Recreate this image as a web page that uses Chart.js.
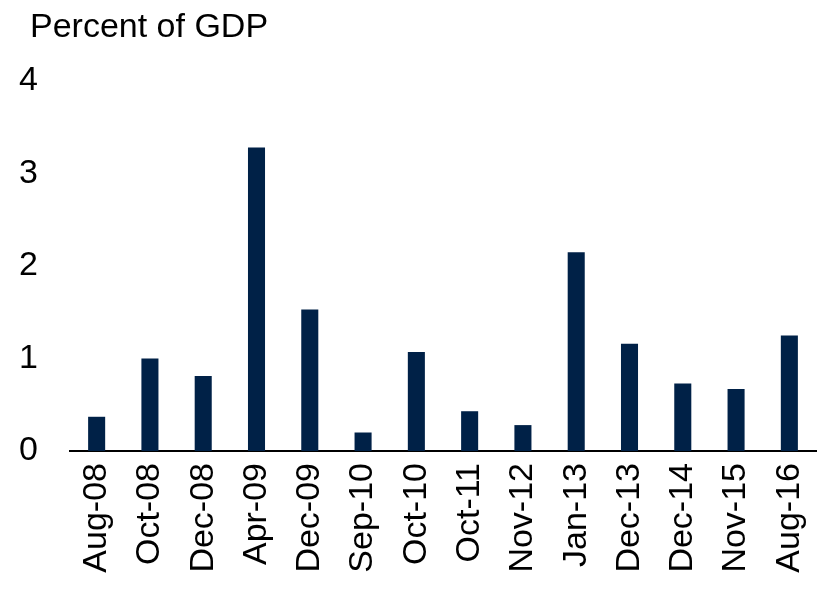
<!DOCTYPE html>
<html>
<head>
<meta charset="utf-8">
<script src="https://cdn.jsdelivr.net/npm/chart.js@4"></script>
<style>
  html, body { margin: 0; padding: 0; background: #fff; }
  #wrap { width: 818px; height: 589px; }
</style>
</head>
<body>
<div id="wrap"><canvas id="gdpChart"></canvas></div>
<script>
const categories = ["Aug-08", "Oct-08", "Dec-08", "Apr-09", "Dec-09", "Sep-10", "Oct-10",
                    "Oct-11", "Nov-12", "Jan-13", "Dec-13", "Dec-14", "Nov-15", "Aug-16"];
const values = [0.37, 1.0, 0.81, 3.28, 1.53, 0.2, 1.07, 0.43, 0.28, 2.15, 1.16, 0.73, 0.67, 1.25];
const yTicks = [0, 1, 2, 3, 4];
const titleText = "Percent of GDP";

const fontFamily = "'Liberation Sans', Arial, sans-serif";
const fontSize = 34;

// unit title sits top-left, left of the plot area, so draw it ourselves
const unitTitle = {
  id: 'unitTitle',
  afterDraw(chart) {
    const c = chart.ctx;
    c.save();
    c.fillStyle = '#000';
    c.font = fontSize + 'px ' + fontFamily;
    c.textAlign = 'left';
    c.textBaseline = 'alphabetic';
    c.fillText(titleText, 30, 37);
    c.restore();
  }
};

const ctx = document.getElementById("gdpChart").getContext("2d");
new Chart(ctx, {
  type: 'bar',
  data: {
    labels: categories,
    datasets: [{
      label: titleText,
      data: values,
      backgroundColor: '#002147',
      borderWidth: 0,
      barPercentage: 0.32,
      categoryPercentage: 1
    }]
  },
  options: {
    responsive: true,
    maintainAspectRatio: false,
    animation: false,
    layout: { padding: { left: 0, right: 2, top: 81, bottom: 0 } },
    plugins: {
      legend: { display: false },
      tooltip: { enabled: false },
      title: { display: false }
    },
    scales: {
      x: {
        grid: { display: false, drawTicks: false },
        border: { display: true, color: '#000', width: 2 },
        ticks: {
          color: '#000',
          font: { family: fontFamily, size: fontSize },
          maxRotation: 90,
          minRotation: 90,
          padding: 12,
          autoSkip: false
        },
        afterFit: (scale) => {
          scale.height = 138;
          scale.paddingLeft = 0;
          scale.paddingRight = 0;
        }
      },
      y: {
        min: 0,
        max: 4,
        afterBuildTicks: (scale) => { scale.ticks = yTicks.map(v => ({ value: v })); },
        grid: { display: false, drawTicks: false },
        border: { display: false },
        ticks: {
          color: '#000',
          font: { family: fontFamily, size: fontSize },
          padding: 32
        },
        afterFit: (scale) => {
          scale.width = 70;
          scale.paddingTop = 0;
          scale.paddingBottom = 0;
        }
      }
    }
  },
  plugins: [unitTitle]
});
</script>
</body>
</html>
